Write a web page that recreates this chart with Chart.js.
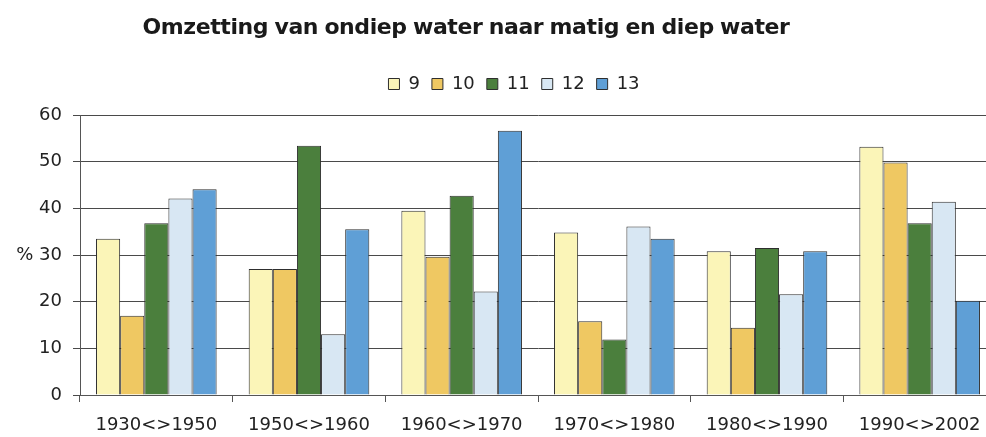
<!DOCTYPE html>
<html>
<head>
<meta charset="utf-8">
<script src="https://cdn.jsdelivr.net/npm/chart.js@4.4.1/dist/chart.umd.min.js"></script>
<style>
  html, body { margin: 0; padding: 0; background: #fff; overflow: hidden; }
  #wrap { position: relative; width: 1022px; height: 437px; }
  #titel {
    position: absolute; left: 0; top: 14px; width: 932px;
    text-align: center; font: bold 22px "DejaVu Sans", sans-serif;
    color: #1a1a1a; letter-spacing: -0.4px; word-spacing: -1px;
  }
</style>
</head>
<body>
<div id="wrap">
  <div id="titel">Omzetting van ondiep water naar matig en diep water</div>
  <canvas id="grafiek" width="1022" height="437"></canvas>
</div>
<script>
// periodes en reeksen (waarden in %)
const periodes = ['1930<>1950', '1950<>1960', '1960<>1970', '1970<>1980', '1980<>1990', '1990<>2002'];
const reeks9  = [33.5, 27.0, 39.5, 34.8, 30.8, 53.2];
const reeks10 = [17.0, 27.0, 29.6, 15.8, 14.4, 49.8];
const reeks11 = [36.8, 53.4, 42.7, 11.9, 31.5, 36.8];
const reeks12 = [42.1, 13.0, 22.2, 36.1, 21.6, 41.4];
const reeks13 = [44.1, 35.5, 56.6, 33.5, 30.8, 20.2];
const yTicks = [0, 10, 20, 30, 40, 50, 60];

const fontTekst = { family: '"DejaVu Sans", sans-serif', size: 18 };

function reeks(label, data, kleur) {
  return {
    label: label,
    data: data,
    backgroundColor: kleur,
    borderColor: '#2e2e2e',
    borderWidth: 1,
    barPercentage: 1,
    categoryPercentage: 0.79
  };
}

// legenda: extra ruimte eronder en iets naar rechts
const legendaRuimte = {
  id: 'legendaRuimte',
  beforeLayout(chart) {
    const lg = chart.legend;
    if (lg && !lg._extra) {
      const fit = lg.fit;
      lg.fit = function() { fit.call(this); this.height += 12; };
      lg._extra = true;
    }
  },
  afterLayout(chart) {
    if (chart.legend) chart.legend.left = 32;
  }
};

const ctx = document.getElementById('grafiek').getContext('2d');
new Chart(ctx, {
  type: 'bar',
  data: {
    labels: periodes,
    datasets: [
      reeks('9', reeks9, '#fbf5b8'),
      reeks('10', reeks10, '#efc862'),
      reeks('11', reeks11, '#4b7f3d'),
      reeks('12', reeks12, '#d8e7f3'),
      reeks('13', reeks13, '#5f9fd6')
    ]
  },
  plugins: [legendaRuimte],
  options: {
    responsive: false,
    animation: false,
    layout: { padding: { top: 63, right: 26, left: 0, bottom: 0 } },
    plugins: {
      title: { display: false },
      tooltip: { enabled: false },
      legend: {
        position: 'top',
        labels: {
          color: '#222',
          font: fontTekst,
          boxWidth: 11,
          boxHeight: 11,
          padding: 12
        }
      }
    },
    scales: {
      x: {
        grid: {
          offset: true,
          drawOnChartArea: false,
          color: '#555',
          tickLength: 7
        },
        border: { color: '#555' },
        ticks: { color: '#222', font: fontTekst, padding: 13, maxRotation: 0 },
        afterFit: function(s) { s.height = 42; }
      },
      y: {
        min: 0,
        max: 60,
        afterBuildTicks: function(s) { s.ticks = yTicks.map(v => ({ value: v })); },
        grid: { color: '#4a4a4a', tickLength: 7 },
        border: { color: '#555' },
        ticks: {
          color: '#222',
          font: fontTekst,
          padding: 11,
          callback: function(v) { return v === 30 ? '% 30' : v; }
        },
        afterFit: function(s) { s.width = 80; }
      }
    }
  }
});
</script>
</body>
</html>
